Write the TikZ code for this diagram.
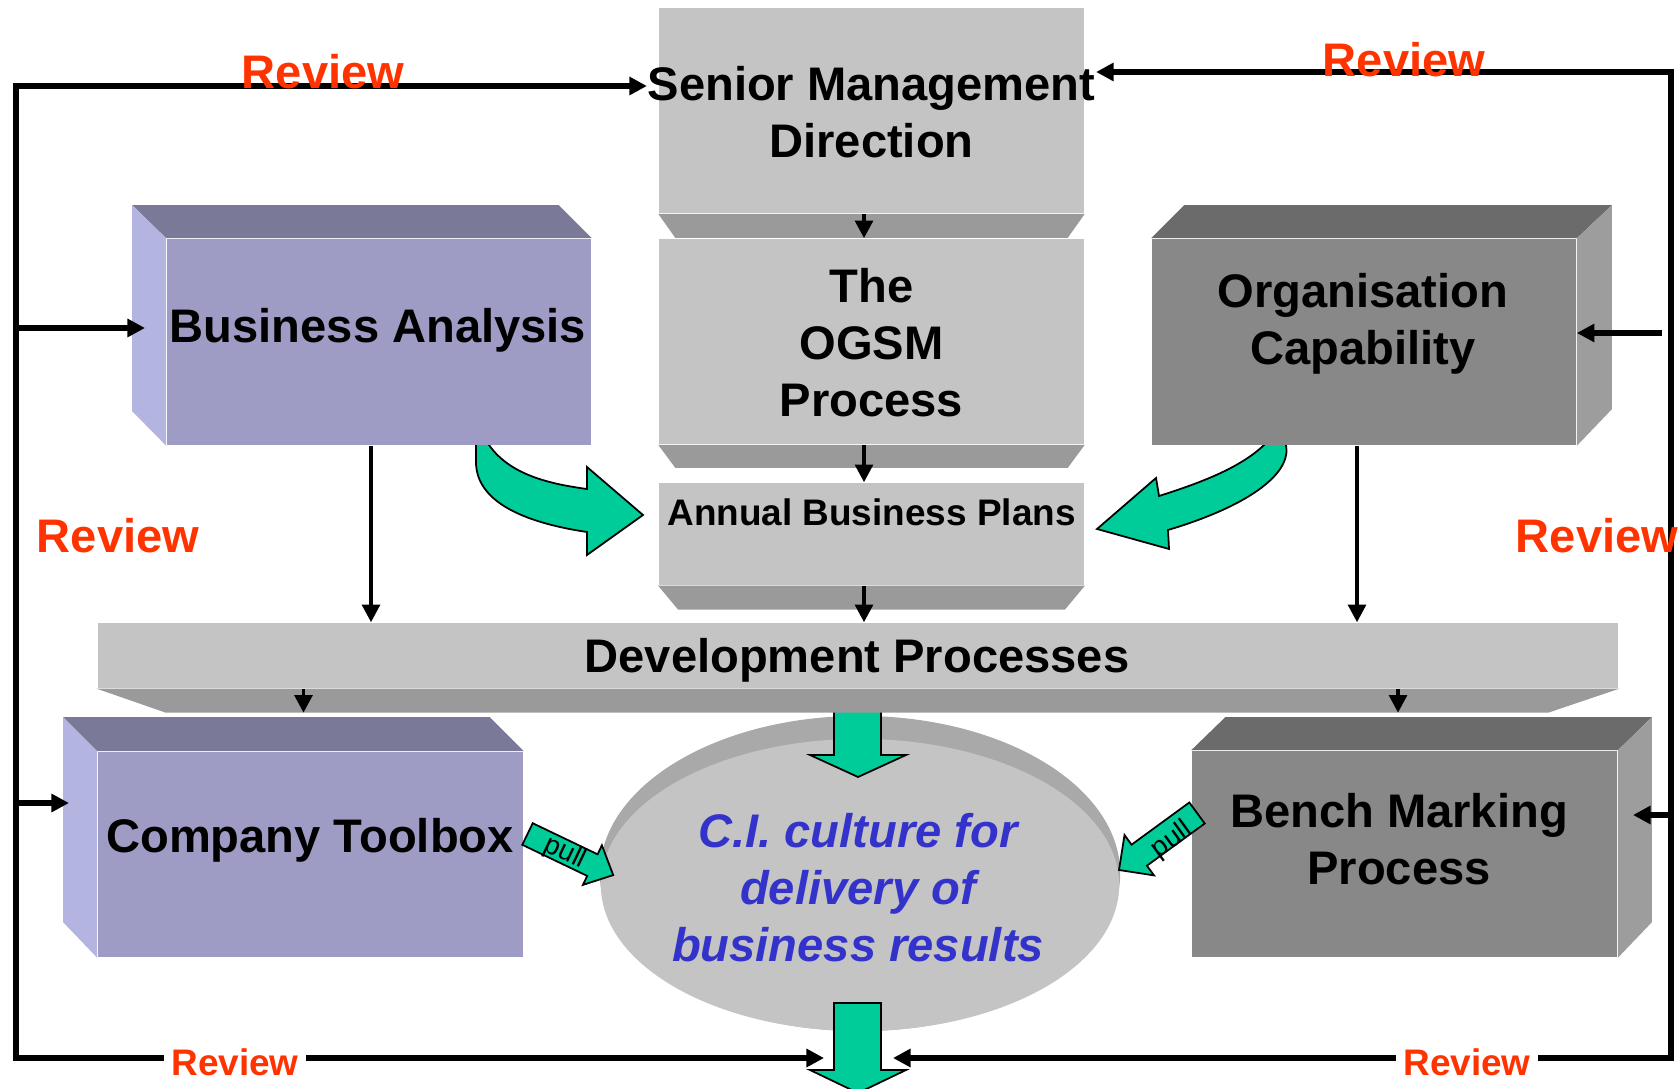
\documentclass[tikz,border=0pt]{standalone}
\usepackage{fontspec}
\setmainfont{Liberation Sans}
\usetikzlibrary{positioning,calc,arrows.meta,shapes.geometric}

\definecolor{facegrey}{HTML}{C4C4C4}
\definecolor{bevelgrey}{HTML}{9A9A9A}
\definecolor{discshade}{HTML}{A9A9A9}
\definecolor{lilac}{HTML}{9E9CC4}
\definecolor{lilactop}{HTML}{7A7A98}
\definecolor{lilacside}{HTML}{B4B4E0}
\definecolor{slate}{HTML}{888888}
\definecolor{slatetop}{HTML}{6B6B6B}
\definecolor{slateside}{HTML}{9D9D9D}
\definecolor{reviewred}{HTML}{FF3300}
\definecolor{cigreen}{HTML}{00CC99}
\definecolor{ciblue}{HTML}{3333CC}

\tikzset{
	bigtxt/.style={font=\fontsize{13.4}{16.2}\selectfont\bfseries, align=center, inner sep=0pt},
	smalltxt/.style={font=\fontsize{10.5}{12.6}\selectfont\bfseries, inner sep=0pt},
	pulltxt/.style={font=\fontsize{7.8}{9}\selectfont, inner sep=0pt},
	facebox/.style={inner sep=0pt, draw=none},
	review/.style={bigtxt, text=reviewred},
	reviewsmall/.style={smalltxt, text=reviewred, fill=white, inner xsep=2pt},
	loopline/.style={line width=1.5pt, -{Triangle[length=5pt,width=5pt]}},
	flow/.style={line width=1.1pt, -{Triangle[length=5pt,width=5pt]}},
	block/.style={fill=cigreen, draw=black, line width=0.5pt, line join=miter},
}

\begin{document}
\begin{tikzpicture}[x=0.01cm, y=-0.01cm]
	\useasboundingbox (0,0) rectangle (1680,1089);

	% curved green arrows, their tails hidden under the boxes
	\filldraw[block] (476,440) -- (476,462) .. controls (476,500) and (520,522) .. (587,532)
		-- (587,555) -- (643,515) -- (587,467) -- (587,489)
		.. controls (550,484) and (510,475) .. (489,445) -- (489,440) -- cycle;
	\filldraw[block] (1286,440) -- (1286,445) .. controls (1292,475) and (1245,507) .. (1168,530)
		-- (1169,549) -- (1097,529) -- (1156,478) -- (1159,496)
		.. controls (1200,483) and (1240,468) .. (1264,445) -- (1264,440) -- cycle;

	% centre column
	\node[facebox, fill=facegrey, minimum width=4.25cm, minimum height=2.05cm] (smd) at (871.5,110.5) {};
	\fill[bevelgrey] (smd.south west) -- (smd.south east) -- ++(-17,24) -- ($(smd.south west)+(17,24)$) -- cycle;
	\node[facebox, fill=facegrey, minimum width=4.25cm, minimum height=2.05cm] (ogsm) at (871.5,341.5) {};
	\fill[bevelgrey] (ogsm.south west) -- (ogsm.south east) -- ++(-17,23) -- ($(ogsm.south west)+(17,23)$) -- cycle;
	\node[facebox, fill=facegrey, minimum width=4.25cm, minimum height=1.02cm] (abp) at (871.5,534) {};
	\fill[bevelgrey] (abp.south west) -- (abp.south east) -- ++(-20,24) -- ($(abp.south west)+(20,24)$) -- cycle;

	% side boxes
	\node[facebox, fill=lilac, minimum width=4.24cm, minimum height=2.06cm] (ba) at (379,342) {};
	\fill[lilactop] (ba.north west) -- (ba.north east) -- ++(-33,-33) -- ($(ba.north west)+(-34,-33)$) -- cycle;
	\fill[lilacside] (ba.north west) -- ++(-34,-33) -- ++(0,206) -- (ba.south west) -- cycle;

	\node[facebox, fill=slate, minimum width=4.24cm, minimum height=2.06cm] (oc) at (1364,342) {};
	\fill[slatetop] (oc.north west) -- (oc.north east) -- ++(35,-33) -- ($(oc.north west)+(33,-33)$) -- cycle;
	\fill[slateside] (oc.north east) -- ++(35,-33) -- ++(0,204) -- (oc.south east) -- cycle;

	\node[facebox, fill=lilac, minimum width=4.25cm, minimum height=2.05cm] (ct) at (310.5,854.5) {};
	\fill[lilactop] (ct.north west) -- (ct.north east) -- ++(-34,-34) -- ($(ct.north west)+(-34,-34)$) -- cycle;
	\fill[lilacside] (ct.north west) -- ++(-34,-34) -- ++(0,205) -- (ct.south west) -- cycle;

	\node[facebox, fill=slate, minimum width=4.25cm, minimum height=2.06cm] (bm) at (1404.5,854) {};
	\fill[slatetop] (bm.north west) -- (bm.north east) -- ++(34,-33) -- ($(bm.north west)+(34,-33)$) -- cycle;
	\fill[slateside] (bm.north east) -- ++(34,-33) -- ++(0,205) -- (bm.south east) -- cycle;

	% the disc
	\fill[discshade] (860,873.5) ellipse [x radius=2.6cm, y radius=1.575cm];
	\node[ellipse, facebox, fill=facegrey, minimum width=5.18cm, minimum height=2.92cm] (ci) at (860,885) {};

	% block arrows into and out of the disc
	\filldraw[block] (834,700) -- (834,755) -- (810,755) -- (858,777) -- (906,755) -- (881,755) -- (881,700) -- cycle;
	\filldraw[block] (834,1003) -- (834,1070) -- (810,1070) -- (858,1093) -- (906,1070) -- (881,1070) -- (881,1003) -- cycle;

	% development bar
	\node[facebox, fill=facegrey, minimum width=15.2cm, minimum height=0.65cm] (dp) at (858,655.5) {};
	\fill[bevelgrey] (dp.south west) -- (dp.south east) -- ++(-71,24) -- ($(dp.south west)+(69,24)$) -- cycle;

	% pull arrows
	\filldraw[block] (532.7,823.2) -- (597.6,854.3) -- (601.9,845.3) -- (613.2,875.1) -- (582.9,884.9) -- (587.2,875.9) -- (522.3,844.8) -- cycle;
	\filldraw[block] (1189.3,802.5) -- (1131.5,844.7) -- (1124.5,835) -- (1119,870) -- (1154,875.4) -- (1146.9,865.7) -- (1204.7,823.5) -- cycle;
	\node[pulltxt, rotate=-25.6] (pullL) at (565,853) {pull};
	\node[pulltxt, rotate=36] (pullR) at (1172,840) {pull};

	% labels
	\node[bigtxt] (smdtxt) at (871.5,112) {Senior Management\\Direction};
	\node[bigtxt] (ogsmtxt) at (871.5,342.4) {The\\OGSM\\Process};
	\node[smalltxt] (abptxt) at (871.5,512.5) {Annual Business Plans};
	\node[bigtxt] (dptxt) at (857,660.8) {Development Processes};
	\node[bigtxt] (batxt) at (378,330.8) {Business Analysis};
	\node[bigtxt] (octxt) at (1363,324.3) {Organisation\\Capability};
	\node[bigtxt] (cttxt) at (310,840.8) {Company Toolbox};
	\node[bigtxt] (bmtxt) at (1399,839.4) {Bench Marking\\Process};
	\node[bigtxt, text=ciblue, font=\fontsize{13.4}{16.2}\selectfont\bfseries\itshape] (citxt) at (858,887.4)
		{C.I. culture for\\delivery of\\business results};

	% flow down the middle
	\coordinate (spine) at (864,0);
	\coordinate (baDrop) at (371,0);
	\coordinate (ocDrop) at (1357,0);
	\coordinate (dpLeft) at (303.5,0);
	\coordinate (dpRight) at (1398,0);
	\draw[flow] (smd.south -| spine) -- (ogsm.north -| spine);
	\draw[flow] (ogsm.south -| spine) -- (abp.north -| spine);
	\draw[flow] (abp.south -| spine) -- (dp.north -| spine);
	\draw[flow] (ba.south -| baDrop) -- (dp.north -| baDrop);
	\draw[flow] (oc.south -| ocDrop) -- (dp.north -| ocDrop);
	\draw[flow] (dp.south -| dpLeft) -- ++(0,24);
	\draw[flow] (dp.south -| dpRight) -- ++(0,24);

	% review loops
	\coordinate (lt) at (16,86);
	\coordinate (lb) at (16,1058);
	\coordinate (rt) at (1671,72);
	\coordinate (rb) at (1671,1058);
	\coordinate (baIn) at (145,328);
	\coordinate (ctIn) at (69,803);
	\coordinate (ocTap) at (1662,333);
	\coordinate (bmIn) at (1633,815);
	\coordinate (outL) at (824,1058);
	\coordinate (outR) at (893,1058);

	\draw[loopline] (lb) -- (lt) -- (lt -| smdtxt.west);
	\draw[loopline] (lt) -- (lb) -- (outL);
	\draw[loopline] (lt |- baIn) -- (baIn);
	\draw[loopline] (lt |- ctIn) -- (ctIn);
	\draw[loopline] (rb) -- (rt) -- (rt -| smdtxt.east);
	\draw[loopline] (rt) -- (rb) -- (outR);
	\draw[loopline] (ocTap) -- (ocTap -| oc.east);
	\draw[loopline] (rt |- bmIn) -- (bmIn);

	\node[review] (rvTopL) at (323,72) {Review};
	\node[review] (rvTopR) at (1404,60) {Review};
	\node[review] (rvMidL) at (118,536) {Review};
	\node[review] (rvMidR) at (1597,536) {Review};
	\node[reviewsmall] (rvBotL) at (235,1062) {Review};
	\node[reviewsmall] (rvBotR) at (1467,1062) {Review};
\end{tikzpicture}
\end{document}
